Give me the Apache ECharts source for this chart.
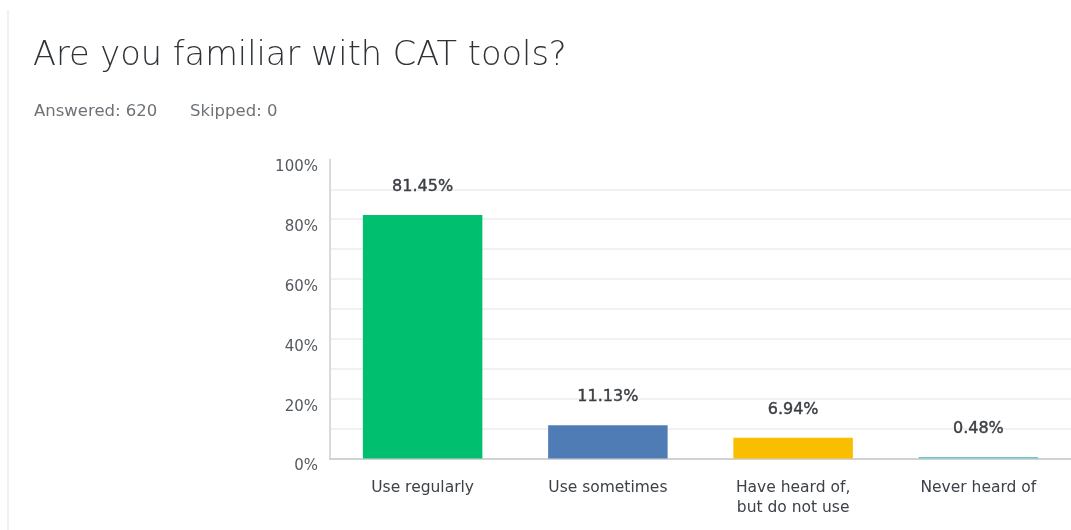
<!DOCTYPE html>
<html>
<head>
<meta charset="utf-8">
<script src="https://cdn.jsdelivr.net/npm/echarts@6/dist/echarts.min.js"></script>
<style>
html,body{margin:0;padding:0;background:#fff;}
#c{width:1071px;height:530px;}
</style>
</head>
<body>
<div id="c"></div>
<script>
var titleText = 'Are you familiar with CAT tools?';
var answeredText = 'Answered: 620';
var skippedText = 'Skipped: 0';
var categories = ['Use regularly', 'Use sometimes', 'Have heard of, but do not use', 'Never heard of'];
var percentValues = [81.45, 11.13, 6.94, 0.48];
var barColors = ['#00bf6f', '#507cb6', '#f9be00', '#6bc8cd'];
var yTicks = [0, 20, 40, 60, 80, 100];

var font = 'DejaVu Sans';
var chart = echarts.init(document.getElementById('c'), null, {renderer: 'canvas'});

var gridColors = [];
for (var i = 0; i <= 10; i++) gridColors.push(i === 10 ? 'rgba(0,0,0,0)' : '#ededed');

chart.setOption({
  backgroundColor: '#ffffff',
  animation: false,
  title: {
    text: titleText,
    left: 33,
    top: 39.5,
    padding: 0,
    textStyle: {fontFamily: font, fontSize: 33.6, fontWeight: 300, color: '#2f3236', lineHeight: 33}
  },
  graphic: [
    {type: 'line', shape: {x1: 8, y1: 10, x2: 8, y2: 530}, style: {stroke: '#ededed', lineWidth: 1.5}},
    {type: 'text', x: 34, y: 112.2, style: {text: answeredText, fontFamily: font, fontSize: 16.5, fill: '#6d7277', textVerticalAlign: 'middle'}},
    {type: 'text', x: 190, y: 112.2, style: {text: skippedText, fontFamily: font, fontSize: 16.5, fill: '#6d7277', textVerticalAlign: 'middle'}}
  ],
  grid: {left: 330, top: 159.4, width: 744, bottom: 71.5, containLabel: false},
  xAxis: {
    type: 'category',
    data: categories,
    axisLine: {show: true, lineStyle: {color: '#d2d2d2', width: 2}},
    axisTick: {show: false},
    axisLabel: {
      interval: 0,
      margin: 19,
      fontFamily: font,
      fontSize: 15.5,
      lineHeight: 20,
      color: '#3d4148',
      formatter: function (v) { return v.replace(', ', ',\n'); }
    }
  },
  yAxis: {
    type: 'value',
    min: 0,
    max: 100,
    interval: 10,
    axisLine: {show: true, lineStyle: {color: '#dadada', width: 2}},
    axisTick: {show: false},
    splitLine: {show: true, lineStyle: {color: gridColors, width: 1.5}},
    axisLabel: {
      margin: 12,
      fontFamily: font,
      fontSize: 15,
      lineHeight: 16,
      color: '#555a60',
      verticalAlign: 'top',
      formatter: function (v) { return yTicks.indexOf(v) >= 0 ? v + '%' : ''; }
    }
  },
  series: [{
    type: 'bar',
    barWidth: 119.5,
    data: percentValues.map(function (v, i) {
      return {value: v, itemStyle: {color: barColors[i]}};
    }),
    label: {
      show: true,
      position: 'top',
      distance: 20,
      fontFamily: font,
      fontSize: 16,
      color: '#3a3d42',
      textBorderColor: '#3a3d42',
      textBorderWidth: 0.4,
      formatter: function (p) { return p.value.toFixed(2) + '%'; }
    }
  }]
});
</script>
</body>
</html>
